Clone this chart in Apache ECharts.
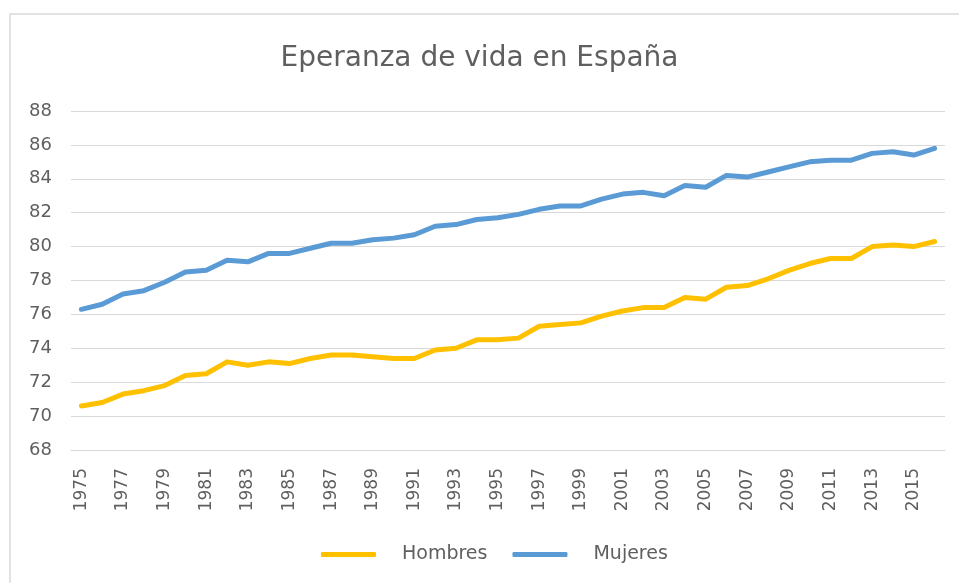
<!DOCTYPE html>
<html>
<head>
<meta charset="utf-8">
<script src="https://cdn.jsdelivr.net/npm/echarts@6/dist/echarts.min.js"></script>
<style>
  html, body { margin: 0; padding: 0; background: #fff; }
  #chart { width: 959px; height: 583px; }
</style>
</head>
<body>
<div id="chart"></div>
<script>
var years = [];
for (var y = 1975; y <= 2016; y++) years.push(String(y));

var hombres = [70.6, 70.8, 71.3, 71.5, 71.8, 72.4, 72.5, 73.2, 73.0, 73.2,
  73.1, 73.4, 73.6, 73.6, 73.5, 73.4, 73.4, 73.9, 74.0, 74.5,
  74.5, 74.6, 75.3, 75.4, 75.5, 75.9, 76.2, 76.4, 76.4, 77.0,
  76.9, 77.6, 77.7, 78.1, 78.6, 79.0, 79.3, 79.3, 80.0, 80.1,
  80.0, 80.3];

var mujeres = [76.3, 76.6, 77.2, 77.4, 77.9, 78.5, 78.6, 79.2, 79.1, 79.6,
  79.6, 79.9, 80.2, 80.2, 80.4, 80.5, 80.7, 81.2, 81.3, 81.6,
  81.7, 81.9, 82.2, 82.4, 82.4, 82.8, 83.1, 83.2, 83.0, 83.6,
  83.5, 84.2, 84.1, 84.4, 84.7, 85.0, 85.1, 85.1, 85.5, 85.6,
  85.4, 85.8];

var font = '"DejaVu Sans", sans-serif';
var chart = echarts.init(document.getElementById('chart'));

var option = {
  animation: false,
  backgroundColor: '#fff',
  textStyle: { fontFamily: font },
  graphic: [{
    type: 'rect',
    shape: { x: 10, y: 14, width: 960, height: 580 },
    style: { fill: 'none', stroke: '#d9d9d9', lineWidth: 1.5 },
    silent: true
  }],
  title: {
    text: 'Eperanza de vida en España',
    left: 'center',
    top: 40,
    textStyle: { color: '#5f5f5f', fontSize: 28, fontWeight: 'normal', fontFamily: font }
  },
  legend: {
    top: 540,
    left: 316,
    itemWidth: 55,
    itemHeight: 5,
    itemGap: 25,
    icon: 'roundRect',
    textStyle: { color: '#5f5f5f', fontSize: 19, padding: [0, 0, 0, 21] },
    data: ['Hombres', 'Mujeres']
  },
  grid: { left: 71, right: 14, top: 111, bottom: 133, containLabel: false },
  xAxis: {
    type: 'category',
    data: years,
    boundaryGap: true,
    axisLine: { lineStyle: { color: '#d9d9d9', width: 1 } },
    axisTick: { show: false },
    axisLabel: {
      interval: 1,
      rotate: 90,
      margin: 18,
      color: '#5f5f5f',
      fontSize: 17
    }
  },
  yAxis: {
    type: 'value',
    min: 68,
    max: 88,
    interval: 2,
    axisLine: { show: false },
    axisTick: { show: false },
    axisLabel: { color: '#5f5f5f', fontSize: 18, margin: 19 },
    splitLine: { lineStyle: { color: '#d9d9d9', width: 1 } }
  },
  series: [{
    name: 'Hombres',
    type: 'line',
    data: hombres,
    symbol: 'none',
    color: '#FFC000',
    lineStyle: { width: 5, color: '#FFC000', cap: 'round', join: 'round' }
  }, {
    name: 'Mujeres',
    type: 'line',
    data: mujeres,
    symbol: 'none',
    color: '#5B9BD5',
    lineStyle: { width: 5, color: '#5B9BD5', cap: 'round', join: 'round' }
  }]
};
chart.setOption(option);
</script>
</body>
</html>
